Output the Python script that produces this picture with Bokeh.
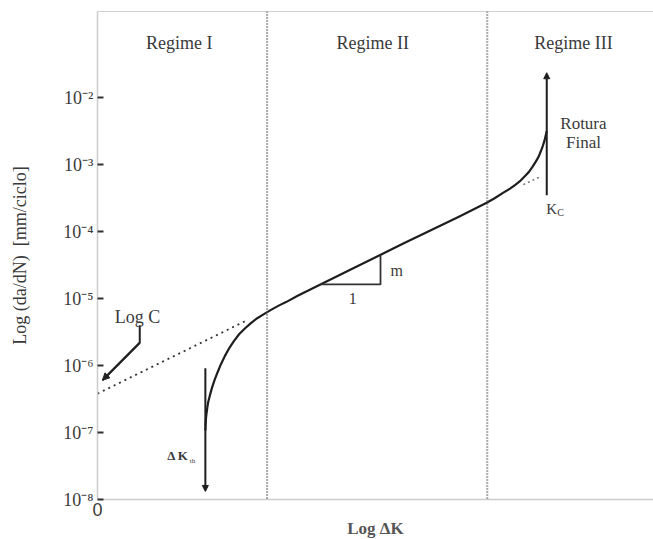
from bokeh.plotting import figure
from bokeh.models import (FixedTicker, LinearAxis, Range1d, Arrow, NormalHead, Span)
from bokeh.core.properties import value
from bokeh.embed import file_html
from bokeh.resources import INLINE

# ---- data (x: log dK in arbitrary units, y: log10 da/dN) ----
curve_x = [1.94, 1.945, 1.95, 1.96, 1.975, 1.99, 2.02, 2.06, 2.10, 2.16, 2.22, 2.29, 2.37,
           2.45, 2.55, 2.66, 2.77, 2.88, 3.00, 3.12, 3.25, 3.40, 3.60, 4.50, 5.50, 6.50,
           7.00, 7.15, 7.30, 7.42, 7.52, 7.61, 7.69, 7.76, 7.82, 7.88, 7.93, 7.97, 8.01,
           8.04, 8.06, 8.08]
curve_y = [-6.97, -6.88, -6.80, -6.72, -6.63, -6.55, -6.45, -6.33, -6.23, -6.10, -5.98,
           -5.86, -5.74, -5.64, -5.53, -5.44, -5.36, -5.29, -5.23, -5.17, -5.11, -5.05,
           -4.96, -4.59, -4.18, -3.78, -3.57, -3.50, -3.42, -3.36, -3.30, -3.24, -3.17,
           -3.11, -3.04, -2.96, -2.89, -2.81, -2.72, -2.64, -2.57, -2.50]
paris_ext_x = [0.0, 2.70]
paris_ext_y = [-6.42, -5.32]
paris_ext3_x = [7.66, 7.97]
paris_ext3_y = [-3.30, -3.18]
regime_bounds = [3.05, 7.01]
regime_labels = ["Regime I", "Regime II", "Regime III"]
regime_label_x = [1.47, 4.95, 8.56]
regime_label_y = [-1.18, -1.18, -1.18]
tri_x = [4.01, 5.09, 5.09]
tri_y = [-4.79, -4.79, -4.35]
logc_x = [0.09, 0.76, 0.76]
logc_y = [-6.22, -5.66, -5.40]
dkth_arrow = {"x": 1.94, "y_start": -6.04, "y_end": -7.88}
kc_arrow = {"x": 8.08, "y_start": -3.46, "y_end": -1.63}
y_ticks = [-8, -7, -6, -5, -4, -3, -2]
y_tick_labels = ["10⁻⁸", "10⁻⁷", "10⁻⁶", "10⁻⁵", "10⁻⁴", "10⁻³", "10⁻²"]
x_ticks = [0]
x_tick_labels = ["0"]

SERIF = "Liberation Serif"
TXT = "#3a3a3a"
INK = "#1e1e1e"

p = figure(frame_width=556, frame_height=488, min_border_left=97, min_border_right=0,
           min_border_top=11, min_border_bottom=0,
           x_range=Range1d(0, 10), y_range=Range1d(-8, -0.716),
           output_backend="svg", toolbar_location=None)
p.outline_line_color = None
p.xgrid.visible = False
p.ygrid.visible = False
p.background_fill_color = "white"
p.border_fill_color = "white"

# axes
p.yaxis.ticker = FixedTicker(ticks=y_ticks)
p.yaxis.major_label_overrides = dict(zip(y_ticks, y_tick_labels))
p.yaxis.major_tick_in = 6
p.yaxis.major_tick_out = 0
p.yaxis.major_tick_line_color = "#333333"
p.yaxis.major_tick_line_width = 2
p.yaxis.minor_tick_line_color = None
p.yaxis.axis_line_color = "#cccccc"
p.yaxis.axis_line_width = 1.5
p.yaxis.major_label_text_font = SERIF
p.yaxis.major_label_text_font_size = "18px"
p.yaxis.major_label_text_color = TXT
p.yaxis.major_label_standoff = 4
p.yaxis.axis_label = "Log (da/dN)\u00a0\u00a0[mm/ciclo]"
p.yaxis.axis_label_text_font = SERIF
p.yaxis.axis_label_text_font_size = "18px"
p.yaxis.axis_label_text_font_style = "normal"
p.yaxis.axis_label_text_color = TXT
p.yaxis.axis_label_standoff = 30

p.xaxis.ticker = FixedTicker(ticks=x_ticks)
p.xaxis.major_label_overrides = dict(zip(x_ticks, x_tick_labels))
p.xaxis.major_tick_in = 0
p.xaxis.major_tick_out = 0
p.xaxis.minor_tick_line_color = None
p.xaxis.axis_line_color = "#cccccc"
p.xaxis.axis_line_width = 1.5
p.xaxis.major_label_text_font = "Liberation Sans"
p.xaxis.major_label_text_font_size = "18px"
p.xaxis.major_label_text_color = TXT
p.xaxis.major_label_standoff = 3
p.xaxis.axis_label = "Log ΔK"
p.xaxis.axis_label_text_font = SERIF
p.xaxis.axis_label_text_font_size = "17px"
p.xaxis.axis_label_text_font_style = "bold"
p.xaxis.axis_label_text_color = "#555555"
p.xaxis.axis_label_standoff = 0

top = LinearAxis(ticker=FixedTicker(ticks=[]), axis_line_color="#d0d0d0", axis_line_width=1.2,
                 major_tick_in=0, major_tick_out=0, minor_tick_in=0, minor_tick_out=0,
                 major_label_text_font_size="0px")
p.add_layout(top, "above")

# regime boundaries (dotted)
for xb in regime_bounds:
    p.add_layout(Span(location=xb, dimension="height", line_color="#555555",
                      line_width=2, line_dash="1 2"))

# dotted Paris-law extensions
p.line(paris_ext_x, paris_ext_y, line_color="#333333", line_width=1.8, line_dash="2 4")
p.line(paris_ext3_x, paris_ext3_y, line_color="#777777", line_width=1.5, line_dash="2 3")

# main curve
p.line(curve_x, curve_y, line_color=INK, line_width=2.2, line_join="round")

# slope triangle
p.line(tri_x, tri_y, line_color="#333333", line_width=1.8)

# Log C pointer
p.line(logc_x, logc_y, line_color="#222222", line_width=2)
p.add_layout(Arrow(end=NormalHead(size=7, fill_color="#222222", line_color="#222222"),
                   x_start=logc_x[1], y_start=logc_y[1], x_end=logc_x[0], y_end=logc_y[0],
                   line_color="#222222", line_width=2))

# threshold and Kc arrows
p.add_layout(Arrow(end=NormalHead(size=6, fill_color=INK, line_color=INK),
                   x_start=dkth_arrow["x"], y_start=dkth_arrow["y_start"],
                   x_end=dkth_arrow["x"], y_end=dkth_arrow["y_end"],
                   line_color=INK, line_width=2))
p.add_layout(Arrow(end=NormalHead(size=6, fill_color=INK, line_color=INK),
                   x_start=kc_arrow["x"], y_start=kc_arrow["y_start"],
                   x_end=kc_arrow["x"], y_end=kc_arrow["y_end"],
                   line_color=INK, line_width=2))

# texts
tfont = value(SERIF)
p.text(regime_label_x, regime_label_y, text=regime_labels, text_font=tfont,
       text_font_size="18px", text_color=TXT, text_align="center", text_baseline="middle")
p.text([8.74, 8.74], [-2.39, -2.67], text=["Rotura", "Final"], text_font=tfont,
       text_font_size="17px", text_color=TXT, text_align="center", text_baseline="middle")
p.text([8.07], [-3.66], text=["K"], text_font=tfont, text_font_size="15px",
       text_color=TXT, text_align="left", text_baseline="middle")
p.text([8.27], [-3.71], text=["C"], text_font=tfont, text_font_size="10px",
       text_color=TXT, text_align="left", text_baseline="middle")
p.text([0.72], [-5.28], text=["Log C"], text_font=tfont, text_font_size="18px",
       text_color=TXT, text_align="center", text_baseline="middle")
p.text([1.64], [-7.34], text=["Δ K"], text_font=tfont, text_font_size="13px",
       text_color=TXT, text_align="right", text_baseline="middle", text_font_style="bold")
p.text([1.66], [-7.42], text=["th"], text_font=tfont, text_font_size="7px",
       text_color=TXT, text_align="left", text_baseline="middle")
p.text([5.38], [-4.58], text=["m"], text_font=tfont, text_font_size="16px",
       text_color=TXT, text_align="center", text_baseline="middle")
p.text([4.59], [-5.0], text=["1"], text_font=tfont, text_font_size="16px",
       text_color=TXT, text_align="center", text_baseline="middle")

open("out.html", "w").write(file_html(p, INLINE))
